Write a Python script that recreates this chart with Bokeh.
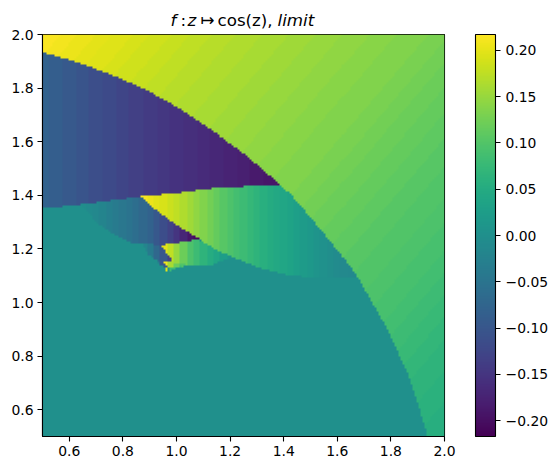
import numpy as np
from bokeh.plotting import figure
from bokeh.layouts import column
from bokeh.models import LinearColorMapper, ColorBar, FixedTicker
from bokeh.core.properties import value
from bokeh.palettes import Viridis256
from bokeh.embed import file_html
from bokeh.resources import INLINE

# --- values ----------------------------------------------------------------
value_limit = 0.217
x_ticks = [0.6, 0.8, 1.0, 1.2, 1.4, 1.6, 1.8, 2.0]
y_ticks = [0.6, 0.8, 1.0, 1.2, 1.4, 1.6, 1.8, 2.0]
bar_ticks = [-0.20, -0.15, -0.10, -0.05, 0.0, 0.05, 0.10, 0.15, 0.20]
bar_labels = ["−0.20", "−0.15", "−0.10", "−0.05", "0.00", "0.05", "0.10", "0.15", "0.20"]
title_texts = ["f", ":", "z", "↦", "cos(z),", "limit"]
title_styles = ["italic", "normal", "italic", "normal", "normal", "italic"]
base_value = 0.0

# outer field as isolines: value, and where the line crosses y = 2.0 and y = 0.5
iso_values = [.215, .21, .205, .20, .195, .19, .185, .18, .175, .17, .165, .16, .155, .15, .145, .14, .135, .13,
              .125, .12, .115, .11, .105, .10, .095, .09, .085, .08, .075, .07, .065, .06, .055, .05, .045]
iso_top_x = [.50, .57, .63, .70, .76, .84, .90, .98, 1.05, 1.13, 1.22, 1.32, 1.42, 1.52, 1.62, 1.72, 1.82, 1.94,
             2.02, 2.09, 2.17, 2.25, 2.33, 2.42, 2.52, 2.60, 2.69, 2.76, 2.83, 2.90, 2.97, 3.07, 3.17, 3.27, 3.40]
iso_bottom_x = [-.78, -.71, -.65, -.58, -.52, -.44, -.38, -.30, -.23, -.15, -.06, .04, .14, .24, .34, .44, .54, .66,
                .74, .81, .89, .97, 1.05, 1.14, 1.24, 1.32, 1.41, 1.48, 1.55, 1.62, 1.69, 1.79, 1.89, 1.99, 2.12]

arc = [(.5, 1.933), (.616, 1.900), (.743, 1.856), (.866, 1.803), (.989, 1.735), (1.116, 1.653),
       (1.239, 1.567), (1.362, 1.463), (1.388, 1.437), (1.425, 1.407), (1.489, 1.332),
       (1.548, 1.261), (1.612, 1.183), (1.675, 1.093), (1.735, .989), (1.798, .877),
       (1.862, .735), (1.899, .627), (1.937, .5)]
outer_polygon = [(.5, 2.0), (2.0, 2.0), (2.0, .5)] + arc[::-1]

lens_b_polygon = arc[:9] + [(1.381, 1.440), (1.287, 1.437), (1.201, 1.429), (1.101, 1.425), (1.041, 1.414),
                            (.978, 1.407), (.866, 1.396), (.754, 1.381), (.642, 1.366), (.5, 1.351)]
lens_b_start, lens_b_values = .5, [-.080, -.088, -.096, -.104, -.112, -.120, -.127, -.134, -.141, -.147, -.153,
                                   -.158, -.163, -.168, -.173, -.179, -.185, -.191, -.198, -.206, -.214]

lens_c_polygon = [(.642, 1.366), (.754, 1.381), (.866, 1.396), (.914, 1.351), (.966, 1.313), (1.015, 1.280),
                  (1.082, 1.239), (1.078, 1.231), (.940, 1.213), (.828, 1.224), (.765, 1.257), (.716, 1.287)]
lens_c_start, lens_c_values = .6, [0, -.002, -.005, -.01, -.015, -.022, -.03, -.037, -.045, -.052, -.06, -.07, -.08,
                                   -.097, -.115, -.132, -.15, -.17, -.19, -.205, -.215]

wedge_d_polygon = [(.866, 1.396), (.978, 1.407), (1.041, 1.414), (1.101, 1.425), (1.201, 1.429), (1.287, 1.437),
                   (1.381, 1.440), (1.425, 1.407), (1.489, 1.332), (1.548, 1.261), (1.612, 1.183), (1.672, 1.094),
                   (1.489, 1.093), (1.399, 1.105), (1.302, 1.131), (1.213, 1.168), (1.153, 1.194), (1.090, 1.231),
                   (1.082, 1.239), (1.015, 1.280), (.966, 1.313), (.914, 1.351)]
wedge_d_start, wedge_d_values = .85, [.215, .212, .205, .198, .19, .183, .175, .165, .155, .145, .135, .125, .115,
                                      .105, .095, .088, .08, .072, .065, .057, .05, .045, .04, .034, .028, .021,
                                      .015, .008, .002, -.003, -.008, -.012, -.015, -.018]

wedge_e_polygon = [(.940, 1.213), (1.082, 1.235), (1.153, 1.194), (1.213, 1.168), (1.175, 1.157), (1.127, 1.138),
                   (1.063, 1.138), (.985, 1.146), (.978, 1.164)]
wedge_e_start, wedge_e_values = .9, [.215, .215, .2, .175, .15, .12, .095, .08, .065, .052, .04, .025, .01]

lens_f_polygon = [(.873, 1.220), (.940, 1.213), (.978, 1.164), (1.007, 1.160), (.978, 1.153), (.940, 1.149), (.895, 1.175)]
lens_f_start, lens_f_values = .85, [-.01, -.02, -.04, -.07, -.10, -.135, -.17, -.19, -.21]

wedge_g_polygon = [(.951, 1.149), (.985, 1.149), (1.052, 1.138), (1.007, 1.131), (.970, 1.127)]
wedge_g_start, wedge_g_values = .95, [.21, .16, .12, .10, .08]

lens_h_polygon = [(.929, 1.149), (.951, 1.149), (.978, 1.134), (.963, 1.127), (.940, 1.138)]
lens_h_start, lens_h_values = .925, [-.03, -.1, -.15, -.2]

tip_polygon = [(.959, 1.127), (.966, 1.127), (.970, 1.112), (.959, 1.112)]
tip_start, tip_values = .95, [.2]

sliver_polygon = [(.970, 1.127), (1.015, 1.134), (.985, 1.120), (.970, 1.112)]
sliver_start, sliver_values = .95, [.08]

# --- raster --------------------------------------------------------------
n = 200
xc = .5 + (np.arange(n) + .5) * 1.5 / n
yc = .5 + (np.arange(n) + .5) * 1.5 / n
X, Y = np.meshgrid(xc, yc)


def inside(poly):
    m = np.zeros(X.shape, bool)
    k = len(poly)
    for i in range(k):
        x0, y0 = poly[i]
        x1, y1 = poly[(i + 1) % k]
        if y0 == y1:
            continue
        hit = ((y0 > Y) != (y1 > Y)) & (X < (x1 - x0) * (Y - y0) / (y1 - y0) + x0)
        m ^= hit
    return m


def by_x(start, values, step=.025):
    idx = np.clip(np.round((X - start) / step).astype(int), 0, len(values) - 1)
    return np.array(values)[idx]


# isoline bands: each cell takes the value of the last isoline it lies to the right of
outer = np.full(X.shape, iso_values[0])
for v, xt, xb in zip(iso_values, iso_top_x, iso_bottom_x):
    line_x = xb + (Y - .5) * (xt - xb) / 1.5
    outer[X >= line_x] = v

Z = np.full(X.shape, base_value)
m = inside(outer_polygon)
Z[m] = outer[m]
for poly, st, vals, step in [(lens_b_polygon, lens_b_start, lens_b_values, .05),
                             (wedge_d_polygon, wedge_d_start, wedge_d_values, .025),
                             (lens_c_polygon, lens_c_start, lens_c_values, .025),
                             (lens_f_polygon, lens_f_start, lens_f_values, .025),
                             (wedge_e_polygon, wedge_e_start, wedge_e_values, .025),
                             (lens_h_polygon, lens_h_start, lens_h_values, .025),
                             (wedge_g_polygon, wedge_g_start, wedge_g_values, .025),
                             (sliver_polygon, sliver_start, sliver_values, .05),
                             (tip_polygon, tip_start, tip_values, .05)]:
    m = inside(poly)
    Z[m] = by_x(st, vals, step)[m]

# --- figure --------------------------------------------------------------
mapper = LinearColorMapper(palette=Viridis256, low=-value_limit, high=value_limit)
p = figure(frame_width=402, frame_height=402, x_range=(.5, 2.0), y_range=(.5, 2.0),
           output_backend="svg", toolbar_location=None,
           min_border_left=42, min_border_top=5, min_border_bottom=26, min_border_right=46)
p.image(image=[Z], x=.5, y=.5, dw=1.5, dh=1.5, color_mapper=mapper)
p.grid.visible = False
p.outline_line_color = "black"
p.outline_line_width = 1.1
p.border_fill_color = None

for ax, ticks in ((p.xaxis[0], x_ticks), (p.yaxis[0], y_ticks)):
    ax.ticker = FixedTicker(ticks=ticks)
    ax.major_label_overrides = {t: f"{t:.1f}" for t in ticks}
    ax.minor_tick_line_color = None
    ax.major_tick_in = 0
    ax.major_tick_out = 5
    ax.major_tick_line_width = 1.1
    ax.axis_line_width = 1.1
    ax.major_label_text_font = "DejaVu Sans"
    ax.major_label_text_font_size = "13.9px"
    ax.major_label_text_color = "black"
    ax.major_label_standoff = 4
p.yaxis[0].major_label_orientation = "horizontal"

cb = ColorBar(color_mapper=mapper, width=20, height=402, padding=0,
              ticker=FixedTicker(ticks=bar_ticks),
              major_label_overrides=dict(zip(bar_ticks, bar_labels)),
              major_tick_in=0, major_tick_out=5, major_tick_line_color="black", major_tick_line_width=1.1,
              minor_tick_line_color=None, bar_line_color="black", bar_line_width=1.1,
              border_line_color=None,
              major_label_text_font="DejaVu Sans", major_label_text_font_size="13.9px",
              major_label_text_color="black", label_standoff=5, location=(31, 0))
p.add_layout(cb, "right")

# title strip above the plot; its horizontal scale follows the page's pixel grid above the plot frame
t = figure(frame_width=402, frame_height=29, x_range=(42, 444), y_range=(29, 0),
           output_backend="svg", toolbar_location=None,
           min_border_left=0, min_border_right=0, min_border_top=0, min_border_bottom=0)
t.xaxis.visible = False
t.yaxis.visible = False
t.grid.visible = False
t.outline_line_color = None
title_x = [170, 180, 187, 200, 217, 277]
title_middle = [19] * 6
for txt, style, sx, sy in zip(title_texts, title_styles, title_x, title_middle):
    t.text(x=[sx], y=[sy], text=[txt], text_font=value("DejaVu Sans"), text_font_size="16.7px",
           text_font_style=style, text_color="black", text_baseline="middle")

page = column(t, p, spacing=0)
open("out.html", "w").write(file_html(page, INLINE))
